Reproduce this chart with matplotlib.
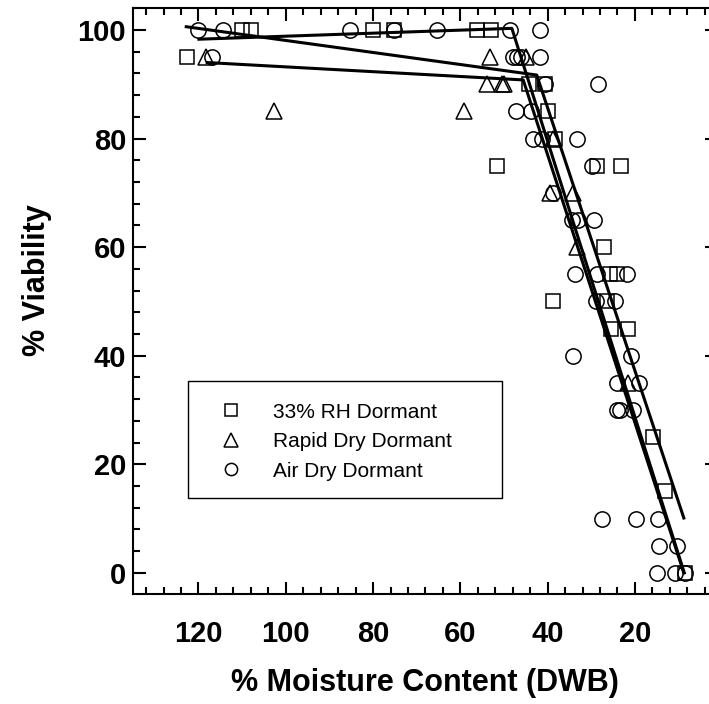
import numpy as np
import matplotlib
matplotlib.use('Agg')
import matplotlib.pyplot as plt
from matplotlib.patches import Rectangle
from matplotlib.ticker import MultipleLocator

plt.rcParams['font.family'] = ['Liberation Sans', 'DejaVu Sans']

# 33% RH Dormant (squares)
rh_x = [122.7, 110.0, 108.0, 80.0, 75.2, 56.2, 53.0, 44.3, 40.6, 39.9, 38.3,
        51.6, 28.7, 23.2, 27.1, 25.7, 24.1, 38.8, 26.5, 25.5, 21.6, 15.9, 13.1, 8.6]
rh_y = [95, 100, 100, 100, 100, 100, 100, 90, 90, 85, 80,
        75, 75, 75, 60, 55, 55, 50, 50, 45, 45, 25, 15, 0]

# Rapid Dry Dormant (triangles)
rapid_x = [118.2, 102.8, 53.2, 45.0, 53.9, 50.4, 50.0, 59.1, 38.8, 39.5, 34.2, 33.3, 21.6]
rapid_y = [95, 85, 95, 95, 90, 90, 90, 85, 80, 70, 70, 60, 35]

# Air Dry Dormant (circles)
air_x = [120.0, 114.3, 85.2, 75.2, 65.3, 48.6, 41.7,
         117.0, 48.0, 47.0, 46.0, 41.7,
         40.6, 28.5,
         47.2, 43.8,
         43.3, 41.3, 33.3,
         29.8,
         38.8,
         34.4, 33.0, 29.4,
         33.7, 28.7, 21.8,
         28.9, 24.6,
         34.2, 20.9,
         24.1, 19.1,
         24.1, 23.4, 20.5,
         27.5, 19.8, 14.7,
         14.5, 10.4,
         15.0, 10.8, 8.6]
air_y = [100, 100, 100, 100, 100, 100, 100,
         95, 95, 95, 95, 95,
         90, 90,
         85, 85,
         80, 80, 80,
         75,
         70,
         65, 65, 65,
         55, 55, 55,
         50, 50,
         40, 40,
         35, 35,
         30, 30, 30,
         10, 10, 10,
         5, 5,
         0, 0, 0]

# broken-line fits
fit1_x = [122.8, 42.5, 8.8]
fit1_y = [100.6, 91.7, 10.1]
fit2_x = [119.9, 48.2, 8.7]
fit2_y = [98.3, 100.3, 0.0]
fit3_x = [118.0, 45.6, 8.8]
fit3_y = [94.0, 90.8, 0.0]

fig = plt.figure(figsize=(7.09, 7.04), dpi=100)
ax = fig.add_axes([133/709, 110/704, 584/709, 586/704])

for fx, fy in [(fit1_x, fit1_y), (fit2_x, fit2_y), (fit3_x, fit3_y)]:
    ax.plot(fx, fy, color='k', lw=2.2, zorder=2)

mk = dict(ls='none', mfc='none', mec='k', mew=1.1, zorder=3)
ax.plot(rh_x, rh_y, marker='s', ms=10.5, label='33% RH Dormant', **mk)
ax.plot(rapid_x, rapid_y, marker='^', ms=12, label='Rapid Dry Dormant', **mk)
ax.plot(air_x, air_y, marker='o', ms=11, label='Air Dry Dormant', **mk)

ax.set_xlim(135, 1.2)
ax.set_ylim(-3.9, 104.05)

ax.xaxis.set_major_locator(MultipleLocator(20))
ax.xaxis.set_minor_locator(MultipleLocator(4))
ax.yaxis.set_major_locator(MultipleLocator(20))
ax.yaxis.set_minor_locator(MultipleLocator(4))

ax.tick_params(which='both', direction='in', top=True, right=True, width=1.5)
ax.tick_params(which='major', length=9)
ax.tick_params(which='minor', length=5, right=False)
ax.tick_params(axis='x', pad=19)
ax.tick_params(axis='y', pad=5)
for lab in ax.get_xticklabels() + ax.get_yticklabels():
    lab.set_fontsize(21)
    lab.set_fontweight('bold')

for side in ['left', 'bottom', 'top']:
    ax.spines[side].set_linewidth(1.5)
ax.spines['right'].set_visible(False)

ax.set_xlabel('% Moisture Content (DWB)', fontsize=22, fontweight='bold', va='top')
ax.set_ylabel('% Viability', fontsize=22, fontweight='bold')
ax.xaxis.set_label_coords(0.5, -0.126)
ax.yaxis.set_label_coords(-0.139, 0.536)

leg = ax.legend(loc='upper left', bbox_to_anchor=(0.153, 0.3265), frameon=False,
                fontsize=15, markerscale=0.8, handlelength=0.85, handletextpad=1.6,
                labelspacing=0.5, borderpad=0, borderaxespad=0)
ax.add_patch(Rectangle((0.094, 0.164), 0.538, 0.199, transform=ax.transAxes,
                       fill=False, ec='k', lw=1.0, zorder=4))

fig.savefig('out.png', dpi=100)
